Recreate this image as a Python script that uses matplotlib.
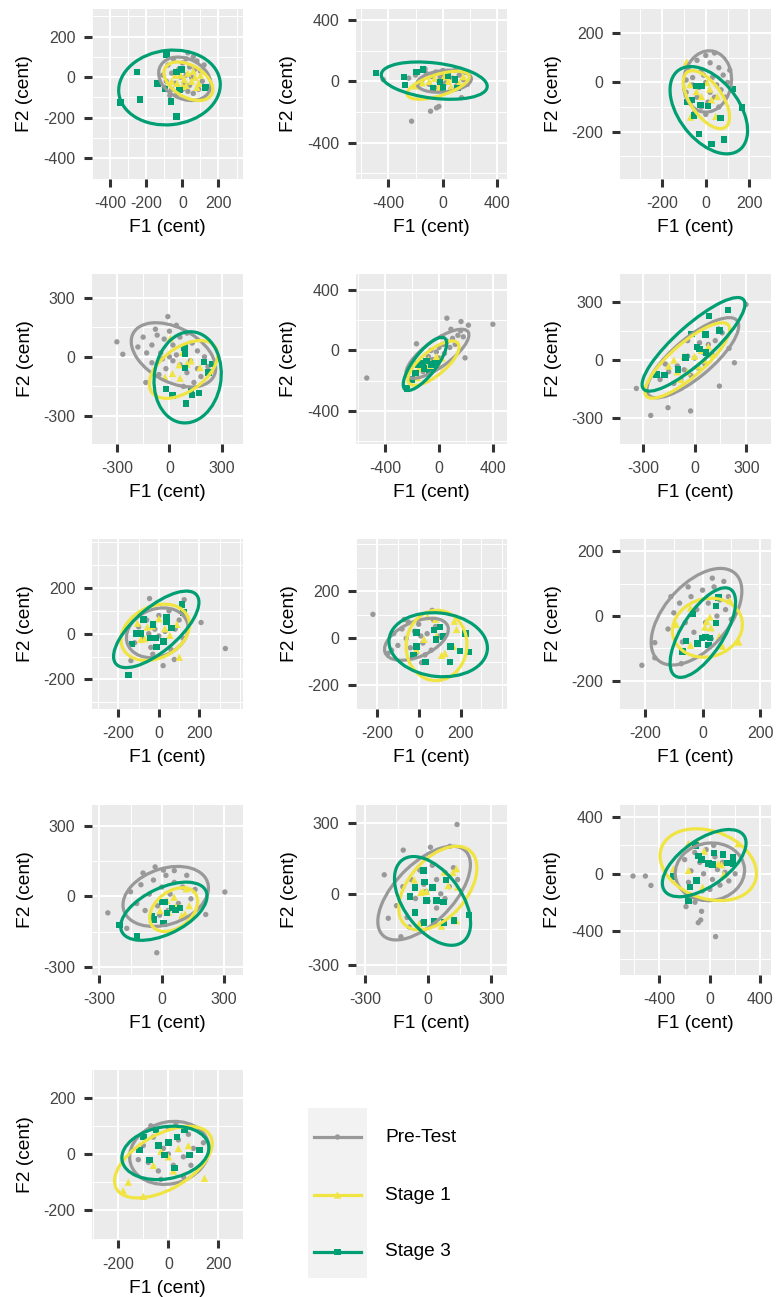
import matplotlib
matplotlib.use("Agg")
import matplotlib.pyplot as plt
from matplotlib.patches import Ellipse
from matplotlib.ticker import MultipleLocator

plt.rcParams['font.family'] = ['Liberation Sans', 'DejaVu Sans']
plt.rcParams['axes.unicode_minus'] = False

# ---------------------------------------------------------------
# data: (F1, F2) in cents, one list per group
# ---------------------------------------------------------------
groups = ['Pre-Test', 'Stage 1', 'Stage 3']

p1_pre = [(-80,60),(-60,20),(-40,-30),(-20,40),(0,70),(20,90),(40,50),(60,100),(80,80),(100,30),(110,-20),(90,-60),(60,-80),(30,-70),(0,-60),(-30,-80),(-60,-60),(-90,-20),(-100,-50),(-70,-90),(20,10),(50,0),(70,40),(-10,0),(10,-30),(40,-40),(120,60),(-110,10),(30,120),(-50,90)]
p1_s1 = [(-60,-20),(-30,-30),(-10,10),(10,-10),(30,20),(50,-20),(70,0),(90,-30),(100,10),(20,-40),(-40,10),(60,30),(80,-50),(0,-45)]
p1_s3 = [(-88,112),(-251,25),(-345,-124),(-235,-109),(-138,-30),(-33,25),(-4,38),(-97,-58),(-64,-119),(-15,-63),(-33,-193),(128,-50)]

p2_pre = [(-229,-260),(-90,-195),(-46,-173),(-29,-164),(137,-107),(-437,11),(-250,20),(-200,40),(-150,10),(-120,50),(-100,-20),(-80,30),(-50,60),(-30,0),(0,40),(20,-10),(40,50),(70,20),(100,-30),(120,40),(150,10),(180,-20),(-180,-10),(-60,-40),(60,-50),(0,70),(-130,80),(160,60),(-20,30),(90,70)]
p2_s1 = [(-200,-30),(-150,-10),(-100,0),(-60,20),(-20,-20),(10,30),(40,0),(80,20),(120,-10),(150,30),(-30,-50),(60,-40)]
p2_s3 = [(-490,55),(-285,28),(-276,-26),(-193,61),(-144,77),(-71,-48),(-22,-4),(2,-42),(39,39),(88,11),(107,-44)]

p3_pre = [(-80,60),(-60,20),(-40,90),(-20,50),(0,110),(20,80),(40,120),(60,60),(80,30),(100,0),(70,-30),(40,-60),(10,-80),(-20,-100),(-50,-120),(-70,-80),(-90,-40),(-30,-20),(0,0),(30,20),(50,-10),(-10,30),(20,-40),(90,-60),(-60,-10),(110,50),(-40,-60),(60,-100),(0,-130),(-90,10)]
p3_s1 = [(-88,83),(-73,-9),(6,0),(18,-27),(53,-57),(-20,-57),(-70,-141),(46,-138),(-43,-37),(26,-71)]
p3_s3 = [(-43,-14),(-17,-14),(-62,-71),(-23,-91),(11,-95),(-84,-80),(-53,-134),(-30,-209),(26,-250),(84,-233),(67,-145),(125,-27),(166,-102)]

p4_pre = [(-300,76),(-266,13),(-9,204),(-135,-130),(-150,100),(-100,60),(-80,140),(-50,20),(-30,90),(0,130),(20,60),(40,160),(60,100),(80,40),(100,120),(130,70),(160,30),(200,0),(220,-50),(180,-100),(140,-130),(100,-80),(60,-40),(20,-20),(-20,-60),(-60,-90),(-100,-30),(-130,20),(-180,50),(0,0),(40,10),(-40,-10),(120,-20),(-70,110),(160,-60),(80,-150)]
p4_s1 = [(4,94),(76,22),(123,-20),(55,-40),(17,-84),(61,-108),(175,-54),(251,-67),(99,-37),(-25,-104)]
p4_s3 = [(85,47),(89,17),(89,-57),(-19,-163),(17,-197),(95,-236),(122,-163),(129,-194),(169,-184),(197,-25),(222,-79),(247,-37)]

p5_pre = [(-538,-182),(400,173),(58,213),(163,191),(218,167),(193,-49),(-168,44),(88,140),(-150,-100),(-100,-80),(-80,-40),(-50,-60),(-20,-10),(0,20),(30,40),(60,60),(100,80),(140,100),(180,90),(120,40),(80,20),(40,-20),(0,-50),(-40,-90),(-120,-140),(-60,0),(160,130),(20,90)]
p5_s1 = [(-150,-120),(-100,-100),(-80,-60),(-40,-80),(-20,-40),(20,-50),(-120,-80),(-60,-120),(0,-100),(-160,-180)]
p5_s3 = [(-238,-253),(-155,-93),(-125,-82),(-95,-71),(-55,-93),(-25,-82),(-113,-120),(-70,-142),(-175,-149),(-200,-193)]

p6_pre = [(-337,-146),(-254,-285),(-154,-245),(-23,-262),(144,-134),(231,-14),(298,286),(29,89),(-200,-100),(-150,-60),(-120,-120),(-100,-30),(-60,-50),(-40,20),(0,10),(20,60),(50,40),(80,80),(120,100),(160,140),(100,30),(60,-20),(20,-40),(-20,-80),(-80,-100),(-170,-20),(200,60),(-40,100),(140,160)]
p6_s1 = [(-150,-30),(-120,0),(-100,-60),(-60,20),(-40,-60),(0,20),(20,-30),(40,50),(60,0),(80,70),(100,30),(-80,-100)]
p6_s3 = [(-221,-74),(-173,-77),(-96,-48),(-52,12),(-19,135),(13,67),(29,58),(62,132),(67,38),(83,226),(144,153),(194,257)]

p7_pre = [(328,-65),(208,49),(-46,154),(125,149),(-138,-118),(21,-140),(76,-113),(-100,30),(-80,-20),(-60,60),(-40,-60),(-20,20),(0,80),(20,-30),(40,50),(60,-70),(80,20),(100,60),(-120,-40),(-30,-90),(50,100),(-70,100),(120,-20),(0,-10),(30,10),(-50,0)]
p7_s1 = [(-106,46),(-57,29),(0,66),(29,22),(54,-7),(89,41),(101,-103),(-89,-25),(-70,-22),(-33,34)]
p7_s3 = [(-150,-182),(-133,-46),(-111,0),(-89,0),(-76,63),(-28,41),(-41,-19),(-16,-19),(-13,-59),(24,-35),(37,71),(37,54),(62,26),(114,129),(122,93)]

p8_pre = [(-219,102),(-70,80),(64,119),(-147,-64),(13,-103),(-120,20),(-100,-30),(-80,40),(-60,0),(-40,-40),(-20,30),(0,60),(20,-20),(40,20),(60,-50),(80,50),(100,10),(-50,70),(-130,-50),(30,-70),(70,80),(-10,-60),(10,10)]
p8_s1 = [(42,92),(80,81),(170,73),(181,38),(26,-4),(109,-72),(125,-64),(165,-33),(-11,-49),(85,10)]
p8_s3 = [(-11,24),(-11,-35),(-24,-72),(32,-100),(72,35),(82,-4),(101,48),(117,7),(152,-35),(197,-54),(224,21),(237,-58),(149,-100)]

p9_pre = [(-211,-152),(-166,-129),(-166,-82),(-74,-147),(74,107),(34,117),(-120,-40),(-100,10),(-80,40),(-60,-20),(-40,60),(-20,20),(0,80),(20,40),(40,90),(60,50),(80,20),(100,-10),(90,60),(-70,-80),(-30,-50),(10,-20),(50,0),(-110,60),(30,-70),(-50,90)]
p9_s1 = [(-91,-26),(-42,25),(14,-16),(8,-34),(29,-36),(59,-62),(-42,-90),(69,-93),(126,-80),(95,48),(26,-3)]
p9_s3 = [(-34,7),(55,57),(46,31),(46,-21),(26,-67),(11,-65),(-2,-68),(-17,-85),(21,-90),(-57,-77),(-69,-109)]

p10_pre = [(303,19),(-259,-70),(-24,-240),(211,-77),(-168,-136),(-32,126),(8,112),(-150,20),(-120,-30),(-100,50),(-80,-60),(-60,10),(-40,70),(-20,-40),(0,40),(20,90),(40,10),(60,60),(80,-30),(100,40),(120,90),(140,-10),(-10,-80),(30,-60),(160,30),(-90,100),(60,110)]
p10_s1 = [(59,-3),(67,-43),(117,33),(96,-82),(112,-75),(-8,-60),(32,-67),(88,-46),(24,-17),(132,-39)]
p10_s3 = [(-203,-122),(-120,-168),(-48,-85),(-37,-99),(0,-24),(16,-24),(24,-70),(48,-49),(67,-57),(88,-49),(8,-115)]

p11_pre = [(137,292),(-118,184),(-208,80),(-189,-103),(103,200),(11,196),(-129,-181),(-150,-50),(-120,30),(-100,-100),(-80,60),(-60,-20),(-40,100),(-20,40),(0,-30),(20,120),(40,60),(60,0),(80,90),(100,30),(120,110),(-30,-120),(-90,-140),(140,60),(40,-60),(-10,10),(80,-20)]
p11_s1 = [(-66,59),(-35,6),(-24,10),(-8,10),(76,92),(118,90),(95,35),(134,106),(139,28),(134,-113),(63,-136),(-43,-127)]
p11_s3 = [(-21,99),(-16,49),(-63,27),(-87,-11),(-8,-28),(21,27),(39,-28),(74,-35),(84,59),(-63,-79),(-19,-121),(27,-117),(76,-120),(123,-113),(193,-89)]

p12_pre = [(-609,-16),(-511,-16),(-467,-82),(-189,-231),(-66,-264),(-73,-325),(-92,-344),(45,-442),(-118,-200),(-200,100),(-150,20),(-120,150),(-100,-50),(-80,80),(-50,0),(-30,170),(0,60),(20,-40),(40,120),(60,30),(80,-80),(100,80),(120,10),(150,-50),(-60,-120),(180,120),(0,-110),(-170,-60),(30,200),(200,0)]
p12_s1 = [(-170,212),(-100,224),(-45,160),(-170,24),(92,64),(110,-5),(-58,-94),(223,212),(66,71),(-289,35)]
p12_s3 = [(-113,200),(-92,125),(-66,99),(-13,71),(21,66),(34,146),(105,136),(136,75),(184,113),(184,71),(-294,-19),(-157,-94),(-105,-47),(-170,-188)]

p13_pre = [(-100,30),(-80,-30),(-60,60),(-40,-60),(-20,20),(0,90),(20,-40),(40,50),(60,-10),(80,70),(100,20),(120,-50),(-120,-20),(30,110),(-30,-90),(60,-80),(140,40),(0,0),(-70,100),(90,-40)]
p13_s1 = [(-180,-130),(-160,-100),(-100,-150),(144,-86),(-60,-40),(0,-10),(40,20),(80,30),(20,-60),(-30,10)]
p13_s3 = [(-100,60),(-50,85),(35,60),(-15,-4),(85,-4),(-75,-21),(25,-50),(125,14),(65,85),(-115,14),(0,40),(-40,30)]

# 95% ellipses per panel: (centre F1, centre F2, width, height, angle) for Pre-Test, Stage 1, Stage 3
ellipses = [
    [(13,-8,300,200,-20), (33,-20,290,160,-25), (-72,-51,565,367,5)],
    [(10,0,400,140,5), (-34,-26,470,140,15), (-63,4,780,230,-6)],
    [(8,4,252,218,75), (3,-70,285,140,-50), (14,-113,430,260,-45)],
    [(23,10,510,280,-23), (80,-64,430,230,30), (104,-104,466,380,78)],
    [(-12,-22,540,180,32), (-42,-84,450,170,35), (-105,-89,450,160,48)],
    [(-10,12,640,210,36), (-42,-2,600,180,37), (-6,81,740,200,38)],
    [(-8,4,310,210,15), (-18,6,350,230,20), (-13,19,500,200,36)],
    [(-11,-4,320,150,20), (85,-30,300,290,70), (93,-27,472,270,-5)],
    [(-21,-2,380,210,42), (17,-36,245,180,10), (1,-51,330,140,53)],
    [(19,0,420,240,15), (57,-56,250,160,30), (10,-63,440,200,22)],
    [(-19,3,530,260,40), (46,24,440,260,42), (21,-30,450,260,-47)],
    [(0,14,550,405,5), (-13,64,780,480,-15), (-45,75,740,340,30)],
    [(4,4,320,220,10), (-20,-29,420,200,25), (-12,4,350,185,8)],
]

# axis range (same for F1 and F2), labelled ticks and grid step of each panel
limits = [(-502,336), (-636,470), (-393,299), (-442,420), (-618,505), (-432,443), (-330,415),
          (-300,422), (-287,238), (-335,390), (-342,374), (-712,484), (-305,298)]
ticks = [[-400,-200,0,200], [-400,0,400], [-200,0,200], [-300,0,300], [-400,0,400],
         [-300,0,300], [-200,0,200], [-200,0,200], [-200,0,200], [-300,0,300],
         [-300,0,300], [-400,0,400], [-200,0,200]]
steps = [200, 400, 200, 300, 400, 300, 200, 200, 200, 300, 300, 400, 200]

panels = [
    (p1_pre, p1_s1, p1_s3), (p2_pre, p2_s1, p2_s3), (p3_pre, p3_s1, p3_s3),
    (p4_pre, p4_s1, p4_s3), (p5_pre, p5_s1, p5_s3), (p6_pre, p6_s1, p6_s3),
    (p7_pre, p7_s1, p7_s3), (p8_pre, p8_s1, p8_s3), (p9_pre, p9_s1, p9_s3),
    (p10_pre, p10_s1, p10_s3), (p11_pre, p11_s1, p11_s3), (p12_pre, p12_s1, p12_s3),
    (p13_pre, p13_s1, p13_s3),
]

# ---------------------------------------------------------------
# styling
# ---------------------------------------------------------------
colours = ['#999999', '#F0E442', '#009E73']
markers = ['o', '^', 's']
msize = [15, 28, 22]

W, H = 777, 1297
col_left = [92, 356, 620]
row_top = [9, 274, 539, 805, 1070]
pw, ph = 151, 170

fig = plt.figure(figsize=(W / 100, H / 100), dpi=100)

for i, pts in enumerate(panels):
    r, c = divmod(i, 3)
    ax = fig.add_axes([col_left[c] / W, 1 - (row_top[r] + ph) / H, pw / W, ph / H])
    ax.set_facecolor('#EBEBEB')
    for s in ax.spines.values():
        s.set_visible(False)

    lo, hi = limits[i]
    ax.set_xlim(lo, hi)
    ax.set_ylim(lo, hi)
    # thin grid every half step, thick grid at the labelled breaks
    ax.xaxis.set_minor_locator(MultipleLocator(steps[i] / 2))
    ax.yaxis.set_minor_locator(MultipleLocator(steps[i] / 2))
    ax.set_xticks(ticks[i])
    ax.set_yticks(ticks[i])
    ax.set_xticklabels([str(t) for t in ticks[i]])
    ax.set_yticklabels([str(t) for t in ticks[i]])
    ax.grid(which='minor', color='white', lw=0.7)
    ax.grid(which='major', color='white', lw=1.4)
    ax.set_axisbelow(True)
    ax.tick_params(which='minor', length=0)
    ax.tick_params(which='major', length=5.5, width=2.2, color='#333333',
                   labelsize=11.5, labelcolor='#444444', pad=6.5)

    for g in range(3):
        xs = [p[0] for p in pts[g]]
        ys = [p[1] for p in pts[g]]
        ax.scatter(xs, ys, s=msize[g], marker=markers[g], color=colours[g],
                   edgecolors='none', zorder=3)
    for g in range(3):
        cx, cy, w, h, ang = ellipses[i][g]
        ax.add_patch(Ellipse((cx, cy), w, h, angle=ang, fill=False,
                             edgecolor=colours[g], lw=2.3, zorder=4))

    ax.set_xlabel('F1 (cent)', fontsize=13.8, labelpad=6)
    ax.set_ylabel('F2 (cent)', fontsize=13.8, labelpad=7)

# legend
lax = fig.add_axes([308 / W, 1 - 1278 / H, 59 / W, 170 / H])
lax.set_facecolor('#F2F2F2')
for s in lax.spines.values():
    s.set_visible(False)
lax.set_xticks([])
lax.set_yticks([])
lax.set_xlim(0, 59)
lax.set_ylim(170, 0)
key_y = [29, 87, 144]
for g in range(3):
    lax.plot([6, 53], [key_y[g], key_y[g]], color=colours[g], lw=2.3)
    lax.scatter([29.5], [key_y[g]], s=msize[g], marker=markers[g], color=colours[g],
                edgecolors='none', zorder=3)
    fig.text(385 / W, 1 - (1108 + key_y[g]) / H, groups[g], fontsize=13.8,
             va='center', ha='left')

fig.savefig('out.png', dpi=100)
